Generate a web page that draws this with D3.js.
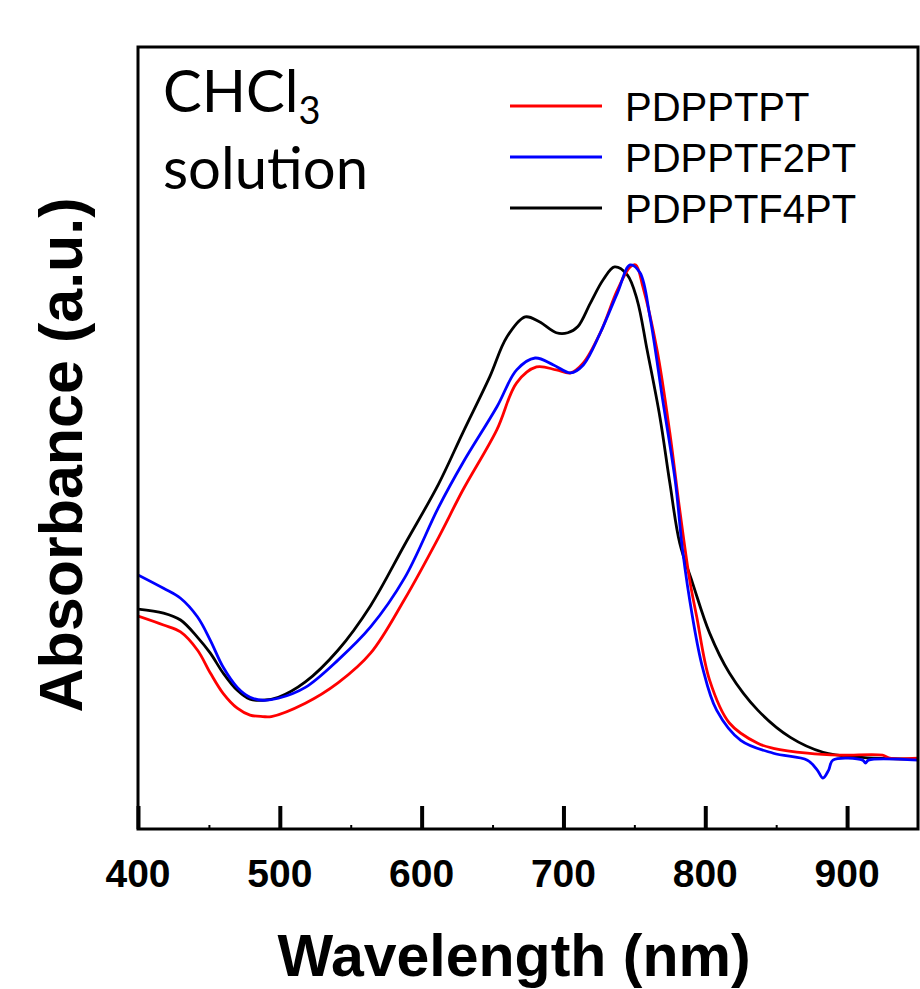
<!DOCTYPE html>
<html>
<head>
<meta charset="utf-8">
<script src="https://cdn.jsdelivr.net/npm/d3@7/dist/d3.min.js"></script>
<style>
  html, body { margin: 0; padding: 0; background: #fff; }
  svg { display: block; }
</style>
</head>
<body>
<svg id="chart" width="920" height="989"></svg>
<script>
// ---- data (wavelength in nm, normalized absorbance) ----
const xTicks = [400, 500, 600, 700, 800, 900];
const xMinorTicks = [450, 550, 650, 750, 850];

const seriesNames = ["PDPPTPT", "PDPPTF2PT", "PDPPTF4PT"];
const seriesColors = ["#ff0000", "#0000ff", "#000000"];

const wlPDPPTPT = [400, 418, 430, 442, 451, 460, 470, 479, 488, 494, 518, 541, 564, 588, 612, 629, 653, 667, 681, 695, 705, 714, 726, 738, 747, 751, 756, 766, 775, 782, 789, 794, 803, 817, 837, 848, 872, 895, 925, 930, 950];
const absPDPPTPT = [0.291, 0.273, 0.259, 0.222, 0.176, 0.135, 0.105, 0.091, 0.088, 0.088, 0.115, 0.156, 0.216, 0.325, 0.450, 0.545, 0.667, 0.762, 0.794, 0.788, 0.782, 0.802, 0.863, 0.949, 0.996, 1.000, 0.956, 0.828, 0.661, 0.505, 0.364, 0.289, 0.162, 0.075, 0.034, 0.024, 0.014, 0.010, 0.010, 0.004, 0.004];

const wlPDPPTF2PT = [400, 418, 430, 442, 451, 460, 470, 479, 488, 499, 518, 541, 564, 588, 612, 629, 653, 667, 680, 693, 705, 714, 726, 738, 747, 754, 761, 770, 779, 784, 791, 798, 808, 825, 848, 872, 879, 883, 887, 890, 911, 913, 915, 950];
const absPDPPTF2PT = [0.374, 0.347, 0.327, 0.289, 0.242, 0.188, 0.147, 0.127, 0.121, 0.125, 0.147, 0.202, 0.269, 0.368, 0.511, 0.600, 0.713, 0.788, 0.812, 0.798, 0.782, 0.798, 0.863, 0.943, 1.000, 0.984, 0.895, 0.727, 0.560, 0.424, 0.289, 0.188, 0.101, 0.040, 0.014, 0.000, -0.020, -0.036, -0.020, 0.000, 0.000, -0.006, 0.000, 0.000];

const wlPDPPTF4PT = [400, 418, 430, 442, 451, 460, 470, 479, 488, 499, 518, 541, 564, 588, 612, 629, 648, 660, 673, 683, 695, 703, 710, 719, 728, 736, 745, 752, 759, 768, 775, 782, 791, 803, 817, 837, 860, 883, 907, 950];
const absPDPPTF4PT = [0.305, 0.297, 0.283, 0.248, 0.216, 0.176, 0.141, 0.123, 0.121, 0.127, 0.158, 0.222, 0.312, 0.435, 0.558, 0.661, 0.774, 0.854, 0.895, 0.885, 0.863, 0.863, 0.875, 0.923, 0.970, 0.996, 0.980, 0.929, 0.828, 0.693, 0.560, 0.438, 0.358, 0.257, 0.176, 0.101, 0.046, 0.016, 0.006, 0.002];

// ---- build ----
const series = [
  { name: seriesNames[0], color: seriesColors[0], pts: wlPDPPTPT.map((w, i) => [w, absPDPPTPT[i]]) },
  { name: seriesNames[1], color: seriesColors[1], pts: wlPDPPTF2PT.map((w, i) => [w, absPDPPTF2PT[i]]) },
  { name: seriesNames[2], color: seriesColors[2], pts: wlPDPPTF4PT.map((w, i) => [w, absPDPPTF4PT[i]]) }
];

const svg = d3.select("#chart");
const L = 138, R = 918, T = 47, B = 829;

const x = d3.scaleLinear().domain([400, 950]).range([L, R]);
const y = d3.scaleLinear().domain([-0.139, 1.440]).range([B, T]);

svg.append("defs").append("clipPath").attr("id", "clip")
  .append("rect").attr("x", L).attr("y", T).attr("width", R - L).attr("height", B - T);

const line = d3.line().x(d => x(d[0])).y(d => y(d[1])).curve(d3.curveCatmullRom.alpha(0.5));

const drawOrder = [2, 0, 1];
svg.append("g").attr("clip-path", "url(#clip)")
  .selectAll("path").data(drawOrder.map(i => series[i])).join("path")
  .attr("d", d => line(d.pts))
  .attr("fill", "none")
  .attr("stroke", d => d.color)
  .attr("stroke-width", 2.8)
  .attr("stroke-linejoin", "round");

// bottom axis with inward ticks
const axis = svg.append("g").attr("transform", `translate(0,${B})`);
axis.call(d3.axisBottom(x).tickValues(xTicks).tickSize(-23).tickFormat(""))
  .call(g => g.select(".domain").remove())
  .call(g => g.selectAll(".tick line").attr("stroke", "#000").attr("stroke-width", 4));
axis.append("g").call(d3.axisBottom(x).tickValues(xMinorTicks).tickSize(-4).tickFormat(""))
  .call(g => g.select(".domain").remove())
  .call(g => g.selectAll(".tick line").attr("stroke", "#000").attr("stroke-width", 2));

svg.selectAll(".xlabel").data(xTicks).join("text")
  .attr("class", "xlabel")
  .attr("x", d => x(d)).attr("y", 887)
  .attr("text-anchor", "middle")
  .attr("font-family", "'Liberation Sans', Arial, sans-serif")
  .attr("font-weight", "bold").attr("font-size", 39)
  .text(d => d);

// frame
svg.append("rect").attr("x", L).attr("y", T).attr("width", R - L).attr("height", B - T)
  .attr("fill", "none").attr("stroke", "#000").attr("stroke-width", 3);

// axis titles
svg.append("text").attr("x", 514).attr("y", 976)
  .attr("text-anchor", "middle")
  .attr("font-family", "'Liberation Sans', Arial, sans-serif")
  .attr("font-weight", "bold").attr("font-size", 59)
  .text("Wavelength (nm)");

svg.append("text").attr("transform", "translate(82,455) rotate(-90)")
  .attr("text-anchor", "middle")
  .attr("font-family", "'Liberation Sans', Arial, sans-serif")
  .attr("font-weight", "bold").attr("font-size", 61)
  .text("Absorbance (a.u.)");

// annotation
const ann = svg.append("text").attr("x", 163).attr("y", 112)
  .attr("font-family", "Lato, 'Open Sans', sans-serif").attr("font-size", 58).attr("fill", "#000");
ann.append("tspan").text("CHCl");
ann.append("tspan").attr("font-size", 38).attr("dy", 12).text("3");
svg.append("text").attr("x", 163).attr("y", 189)
  .attr("font-family", "Lato, 'Open Sans', sans-serif").attr("font-size", 58).attr("fill", "#000")
  .text("solution");

// legend
const leg = svg.append("g");
const legBase = [121, 172, 223];
series.forEach((s, i) => {
  leg.append("line").attr("x1", 510).attr("x2", 602)
    .attr("y1", legBase[i] - 15).attr("y2", legBase[i] - 15)
    .attr("stroke", s.color).attr("stroke-width", 2.8);
  leg.append("text").attr("x", 625).attr("y", legBase[i])
    .attr("font-family", "'Liberation Sans', Arial, sans-serif")
    .attr("font-size", 40).text(s.name);
});
</script>
</body>
</html>
